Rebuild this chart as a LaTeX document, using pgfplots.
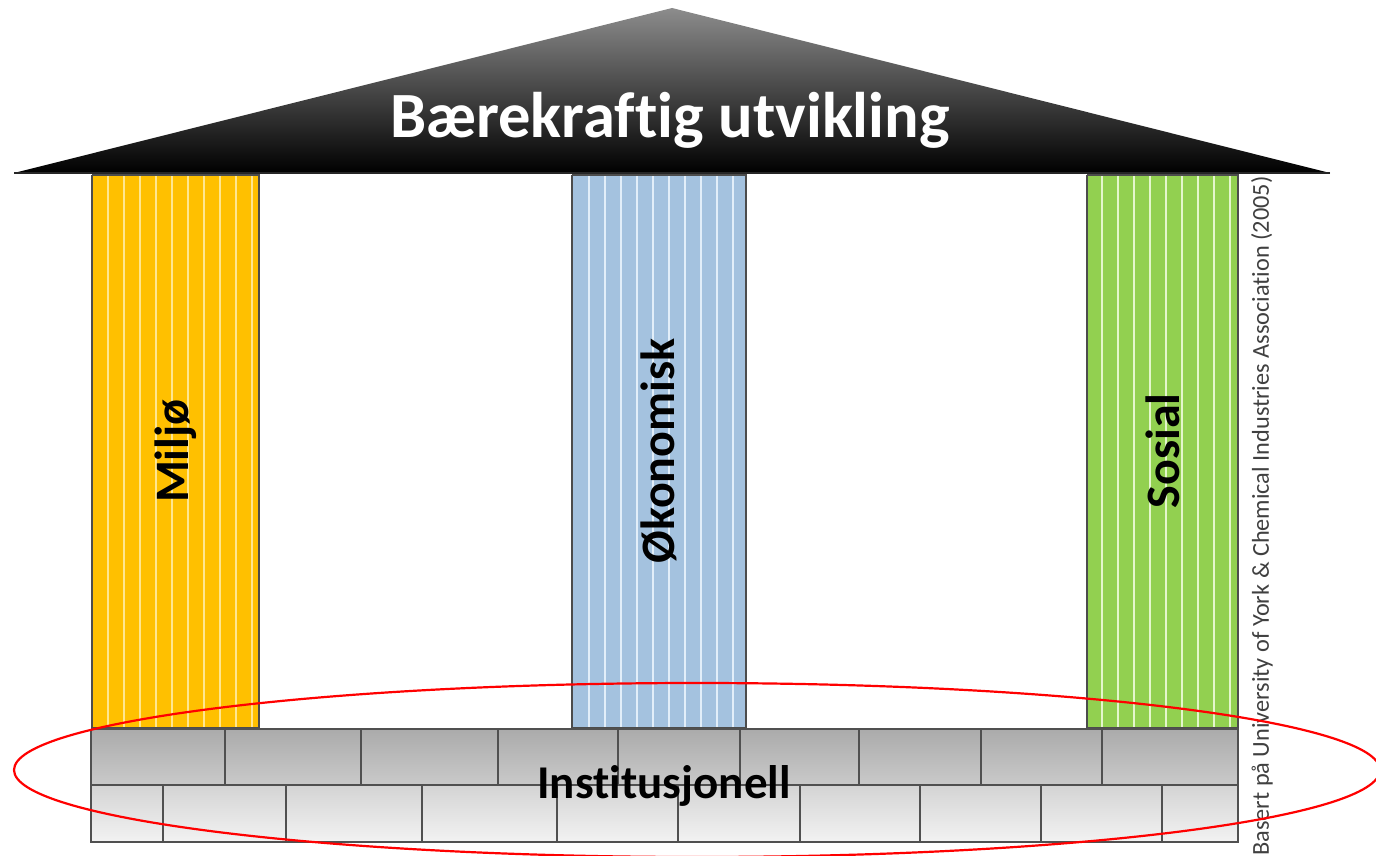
\documentclass[border=0pt]{standalone}
\usepackage{fontspec}
\setmainfont{Carlito}[Ligatures=NoCommon]
\usepackage{pgfplots}
\pgfplotsset{compat=1.18}
\definecolor{miljo}{HTML}{FFC000}
\definecolor{miljos}{HTML}{FFE68F}
\definecolor{okon}{HTML}{A4C2DF}
\definecolor{okons}{HTML}{E2EEF9}
\definecolor{sosial}{HTML}{92D050}
\definecolor{sosials}{HTML}{E4F6CC}
\definecolor{brickline}{HTML}{505050}
\definecolor{srctext}{HTML}{404040}
\begin{document}
\begin{tikzpicture}
\begin{axis}[
  scale only axis, width=1376pt, height=856pt,
  xmin=0, xmax=1376, ymin=0, ymax=856, y dir=reverse,
  hide axis, clip=true,
]
% full frame (invisible) so that the page is the whole axis
\addplot[draw=none, forget plot] coordinates {(0,0) (1376,0) (1376,856) (0,856) (0,0)};
% roof
\addplot[draw=none, top color=black!45, middle color=black!72, bottom color=black]
  coordinates {(14,173) (672,8) (1330,173) (14,173)};
\addplot[draw=black!85, line width=2pt] coordinates {(14,173) (1330,173)};
% pillars
\addplot[fill=miljo, draw=none] coordinates {(92,175) (259,175) (259,728) (92,728) (92,175)};
\addplot[fill=okon, draw=none] coordinates {(572,175) (746,175) (746,728) (572,728) (572,175)};
\addplot[fill=sosial, draw=none] coordinates {(1087,175) (1238,175) (1238,728) (1087,728) (1087,175)};
% stripes
\addplot[miljos, line width=2pt, unbounded coords=jump] coordinates {
 (108,176) (108,727) (116,nan) (124,176) (124,727) (132,nan)
 (140,176) (140,727) (148,nan) (156,176) (156,727) (164,nan)
 (172,176) (172,727) (180,nan) (188,176) (188,727) (196,nan)
 (204,176) (204,727) (212,nan) (220,176) (220,727) (228,nan)
 (236,176) (236,727) (244,nan) (252,176) (252,727)};
\addplot[okons, line width=2pt, unbounded coords=jump] coordinates {
 (589,176) (589,727) (597,nan) (605,176) (605,727) (613,nan)
 (621,176) (621,727) (629,nan) (637,176) (637,727) (645,nan)
 (653,176) (653,727) (661,nan) (669,176) (669,727) (677,nan)
 (685,176) (685,727) (693,nan) (701,176) (701,727) (709,nan)
 (717,176) (717,727) (725,nan) (733,176) (733,727)};
\addplot[sosials, line width=2pt, unbounded coords=jump] coordinates {
 (1102,176) (1102,727) (1110,nan) (1118,176) (1118,727) (1126,nan)
 (1134,176) (1134,727) (1142,nan) (1150,176) (1150,727) (1158,nan)
 (1166,176) (1166,727) (1174,nan) (1182,176) (1182,727) (1190,nan)
 (1198,176) (1198,727) (1206,nan) (1214,176) (1214,727) (1222,nan)
 (1230,176) (1230,727)};
% pillar outlines
\addplot[draw=black!70, line width=1.8pt] coordinates {(92,175) (259,175) (259,728) (92,728) (92,175)};
\addplot[draw=black!70, line width=1.8pt] coordinates {(572,175) (746,175) (746,728) (572,728) (572,175)};
\addplot[draw=black!70, line width=1.8pt] coordinates {(1087,175) (1238,175) (1238,728) (1087,728) (1087,175)};
% brick rows
\addplot[draw=none, top color=black!33, bottom color=black!21] coordinates {(91,729) (1238,729) (1238,785) (91,785) (91,729)};
\addplot[draw=none, top color=black!17, bottom color=black!5] coordinates {(91,785) (1238,785) (1238,842) (91,842) (91,785)};
% brick joints
\addplot[brickline, line width=2pt, unbounded coords=jump] coordinates {
 (225,729) (225,785) (230,nan) (361,729) (361,785) (370,nan)
 (498,729) (498,785) (505,nan) (618,729) (618,785) (625,nan)
 (740,729) (740,785) (745,nan) (859,729) (859,785) (865,nan)
 (981,729) (981,785) (985,nan) (1102,729) (1102,785)};
\addplot[brickline, line width=2pt, unbounded coords=jump] coordinates {
 (163,785) (163,842) (170,nan) (286,785) (286,842) (290,nan)
 (422,785) (422,842) (430,nan) (557,785) (557,842) (560,nan)
 (678,785) (678,842) (680,nan) (800,785) (800,842) (805,nan)
 (920,785) (920,842) (925,nan) (1041,785) (1041,842) (1045,nan)
 (1162,785) (1162,842)};
\addplot[brickline, line width=2pt] coordinates {(91,729) (1238,729) (1238,842) (91,842) (91,729)};
\addplot[brickline, line width=2pt] coordinates {(91,785) (1238,785)};
% texts
\node[text=white, font=\bfseries\fontsize{64.5}{70}\selectfont] at (axis cs:670,120) {Bærekraftig utvikling};
\node[rotate=90, font=\bfseries\fontsize{48}{52}\selectfont] at (axis cs:175.5,451) {Miljø};
\node[rotate=90, font=\bfseries\fontsize{48}{52}\selectfont] at (axis cs:659,451) {Økonomisk};
\node[rotate=90, font=\bfseries\fontsize{48}{52}\selectfont] at (axis cs:1162.5,451) {Sosial};
\node[font=\bfseries\fontsize{47}{52}\selectfont] at (axis cs:664,786) {Institusjonell};
\node[rotate=90, text=srctext, font=\fontsize{24.3}{28}\selectfont] at (axis cs:1262,516) {Basert på University of York \& Chemical Industries Association (2005)};
% red ellipse
\draw[red, line width=2.2pt, overlay] (axis cs:697,770) ellipse [x radius=683, y radius=87];
\end{axis}
\end{tikzpicture}
\end{document}
